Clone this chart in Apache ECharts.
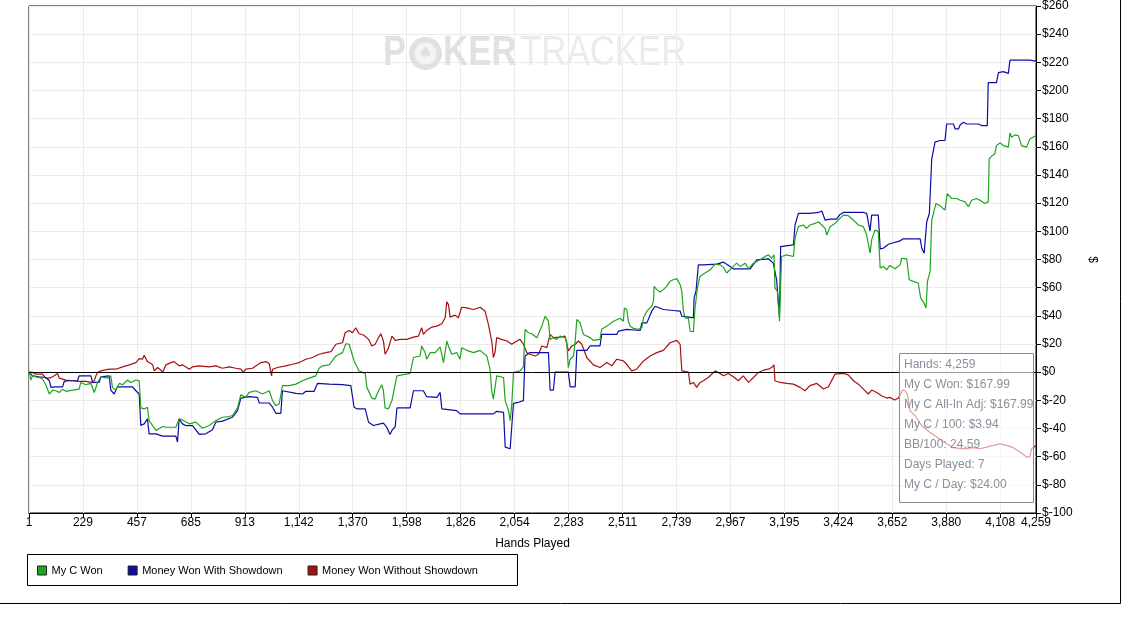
<!DOCTYPE html>
<html>
<head>
<meta charset="utf-8">
<script src="https://cdn.jsdelivr.net/npm/echarts@6/dist/echarts.min.js"></script>
<style>
html,body{margin:0;padding:0;background:#fff;}
#chart{width:1126px;height:641px;}
</style>
</head>
<body>
<div id="chart"></div>
<script>
// ---- data (hand number, dollars) ----
const seriesNames = ['My C Won', 'Money Won With Showdown', 'Money Won Without Showdown'];
const seriesColors = ['#1ea51e', '#0c0ca8', '#a81010'];

const myCWon = [
[1,0],[8,-5.6],[15,-2.6],[29,-3.3],[43,-3.8],[57,-4.9],[71,-8.9],[86,-15.5],[100,-12.7],[114,-13.2],[128,-14.4],[142,-12.2],[156,-13.6],[184,-12.7],[212,-12],[219,-7.3],[241,-8.9],[262,-8],[276,-14.4],[290,-7.3],[304,-3.3],[332,-4.2],[346,-2.6],[353,-10.8],[367,-12.7],[382,-8],[396,-8.9],[417,-5.6],[431,-7.3],[452,-5.6],[466,-6.1],[473,-25.4],[487,-26.1],[501,-24.9],[508,-34.4],[515,-35.5],[537,-41.4],[565,-38.6],[579,-39.1],[621,-39.1],[635,-33.2],[649,-33.9],[678,-36.7],[706,-35.5],[734,-39.8],[762,-37.9],[790,-34.4],[818,-32],[847,-31.5],[861,-30.8],[882,-25.4],[896,-16],[917,-17.9],[931,-14.4],[959,-13.2],[988,-15.5],[1016,-13.2],[1030,-20.2],[1044,-23.8],[1058,-22.6],[1072,-9.6],[1100,-9.6],[1129,-8.5],[1157,-6.1],[1185,-4.2],[1213,-2.6],[1227,2.8],[1241,4.5],[1270,5.2],[1298,11.5],[1326,13.9],[1340,20.2],[1354,19.8],[1361,18.6],[1375,8],[1396,0.9],[1401,0],[1422,-0.9],[1429,-10.8],[1450,-18.4],[1464,-19.1],[1478,-13.2],[1492,-8.9],[1499,-13.2],[1506,-25.4],[1520,-26.1],[1535,-20.2],[1542,-14.4],[1556,-2.6],[1577,-1.9],[1612,-0.9],[1626,10.4],[1654,11.5],[1661,18.6],[1675,13.9],[1682,9.2],[1697,13.9],[1718,13.9],[1739,17.9],[1753,6.8],[1767,22.1],[1774,18.6],[1788,12.7],[1809,13.9],[1823,9.2],[1830,17.4],[1852,15.5],[1880,13.9],[1908,15.5],[1936,11.5],[1950,2.1],[1957,-13.2],[1964,-19.1],[1971,-17.9],[1978,-2.6],[2007,-3.8],[2014,-20.2],[2028,-27.3],[2035,-34.4],[2042,-22.6],[2049,-0.2],[2077,0.9],[2091,3.8],[2098,30.4],[2112,28],[2126,27.3],[2148,24.5],[2169,32.7],[2183,39.8],[2197,36.2],[2204,23.3],[2218,24.5],[2232,23.3],[2246,25.6],[2267,24.5],[2274,22.1],[2281,3.3],[2289,9.2],[2303,11.5],[2310,22.1],[2317,37.4],[2331,35],[2345,26.8],[2373,24.5],[2387,22.6],[2415,23.3],[2422,30.4],[2444,32.7],[2472,36.2],[2500,38.3],[2514,36.2],[2518,45.6],[2528,44.5],[2535,36.2],[2542,32.7],[2556,31.1],[2578,30.4],[2592,31.5],[2599,38.6],[2613,43.3],[2634,46.8],[2641,50.4],[2644,60.9],[2655,58.6],[2669,56.9],[2683,58.6],[2697,60.9],[2711,64.5],[2725,65.6],[2740,66.4],[2754,62.1],[2761,57.4],[2768,43.3],[2775,38.6],[2789,38.1],[2796,29.2],[2810,28.7],[2817,45.6],[2827,59.8],[2838,68],[2859,70.4],[2881,72.7],[2902,76.7],[2923,76.2],[2937,74.4],[2951,70.4],[2965,72.7],[2979,75.1],[2993,77.4],[3008,75.1],[3029,77.4],[3043,73.4],[3064,77.4],[3092,79.8],[3113,82.1],[3127,83.3],[3141,80.9],[3151,83.3],[3155,59.8],[3165,57.4],[3174,36.2],[3179,35],[3183,82.1],[3205,83.3],[3233,82.1],[3240,95.1],[3254,103.3],[3275,104.5],[3289,102.1],[3303,104.5],[3324,105.6],[3339,106.8],[3353,104.5],[3367,102.1],[3374,97.4],[3388,103.3],[3409,105.6],[3423,108],[3444,111.5],[3465,111.1],[3487,108],[3508,104.5],[3529,103.3],[3543,97.4],[3557,84.5],[3564,93.9],[3578,101],[3592,99.8],[3600,73.9],[3613,75.1],[3627,72.7],[3641,75.8],[3663,73.4],[3684,76.2],[3691,80.9],[3712,80.5],[3723,65.6],[3740,64.5],[3761,63.3],[3771,52.7],[3785,49.2],[3794,45.6],[3800,64.5],[3811,71.5],[3818,108],[3836,119.8],[3853,118.1],[3874,115.1],[3884,126.8],[3902,123.3],[3924,123.3],[3938,122.1],[3959,120.9],[3973,117.4],[3987,122.1],[4008,123.3],[4022,122.1],[4043,119.8],[4057,120.9],[4061,151.5],[4071,153.4],[4085,155.1],[4092,160.9],[4107,162.8],[4121,160.9],[4142,159.8],[4149,169.9],[4156,166.8],[4170,168.5],[4184,168],[4198,160.9],[4219,159.8],[4233,165.6],[4259,168]
];

const wonWithShowdown = [
[1,0],[15,-2.6],[43,-3.3],[71,-3.8],[86,-6.1],[93,-10.8],[114,-10.4],[142,-10.4],[149,-6.6],[170,-6.1],[205,-6.1],[212,-2.6],[262,-2.6],[269,-7.3],[297,-7.3],[304,-3.3],[339,-2.6],[346,-12.7],[360,-15.5],[374,-10.4],[438,-10.4],[452,-13.2],[466,-15.5],[473,-37.9],[487,-36.7],[501,-33.2],[508,-43.8],[537,-43.8],[565,-45.4],[621,-45.4],[628,-49.6],[635,-33.2],[649,-36.7],[663,-37.9],[692,-37.9],[720,-44.2],[748,-43.8],[776,-40.9],[790,-35.5],[818,-34.8],[861,-32],[882,-27.3],[896,-18.4],[931,-17.4],[966,-17.9],[974,-21.9],[1016,-21.9],[1030,-24.9],[1044,-29.2],[1065,-29.2],[1072,-13.2],[1129,-15.1],[1157,-15.5],[1171,-13.6],[1206,-13.6],[1220,-8],[1270,-8.5],[1326,-8.9],[1361,-9.6],[1375,-24.9],[1389,-26.1],[1422,-26.1],[1436,-35.5],[1457,-37.9],[1485,-36.7],[1499,-36.2],[1513,-39.1],[1527,-44.2],[1535,-41.4],[1549,-38.6],[1556,-25.4],[1612,-25.4],[1626,-13.2],[1668,-13.2],[1682,-17.4],[1725,-17.9],[1739,-14.4],[1746,-26.1],[1809,-27.3],[1823,-29.6],[1964,-29.6],[1978,-27.8],[2007,-28.5],[2014,-53.2],[2035,-54.4],[2042,-55.5],[2049,-22.1],[2070,-21.4],[2091,-20.2],[2098,11.5],[2119,13.9],[2197,13.9],[2204,-12.7],[2218,-12.7],[2225,0],[2281,0],[2289,-10.4],[2310,-10.4],[2317,15.5],[2359,15.5],[2373,18.6],[2415,18.6],[2422,26.8],[2486,26.8],[2493,29.2],[2528,30.4],[2585,29.6],[2592,35],[2613,35],[2634,43.3],[2648,46.8],[2683,44.5],[2725,43.8],[2754,43.3],[2761,39.8],[2768,38.6],[2810,38.6],[2813,52.7],[2821,57.4],[2831,76.2],[2852,76.2],[2909,76.7],[2937,78.1],[2951,76.7],[2979,73.4],[3050,73.4],[3078,79.8],[3127,80.5],[3148,77.4],[3162,65.6],[3174,39.8],[3179,89.2],[3233,90.4],[3240,104.5],[3254,112.7],[3303,112.7],[3339,113.4],[3353,114.4],[3360,113.9],[3367,108],[3388,108.7],[3416,108.7],[3430,112],[3444,113.4],[3529,113.4],[3543,112.7],[3557,100.2],[3564,111.5],[3592,111.5],[3600,87.5],[3613,88],[3635,90.8],[3684,93.2],[3695,94.6],[3769,94.6],[3776,88],[3786,84.5],[3794,84.5],[3797,106.8],[3808,112.7],[3816,113.4],[3818,151.5],[3825,151.5],[3832,163.3],[3853,164.5],[3874,164.5],[3881,176.2],[3910,176.2],[3917,172.7],[3931,172.7],[3938,175.5],[3952,177.4],[3966,176.2],[4015,176.2],[4029,175.1],[4053,175.1],[4057,205.6],[4092,205.6],[4100,212.7],[4121,213.4],[4142,212.2],[4149,221.6],[4233,221.6],[4259,220.9]
];

const wonWithoutShowdown = [
[1,0],[15,-0.2],[29,-1.4],[57,-1.4],[71,-4.2],[86,-4.2],[100,-3.3],[121,-0.9],[128,-4.2],[156,-5.6],[184,-6.1],[212,-6.6],[241,-6.6],[262,-7.3],[276,-6.1],[283,-2.6],[290,-0.2],[304,0.9],[339,2.1],[367,2.1],[396,3.8],[424,5.2],[452,6.8],[466,9.6],[480,9.2],[487,12],[501,7.5],[523,5.2],[530,0.9],[544,3.3],[558,1.4],[565,-0.2],[579,5.2],[600,6.8],[614,7.5],[635,4.5],[649,5.2],[678,2.1],[692,3.8],[720,4.5],[762,3.8],[790,4.5],[818,2.8],[847,3.8],[875,2.8],[896,2.1],[906,-0.2],[917,2.1],[945,2.8],[981,6.8],[1002,7.5],[1016,6.1],[1023,-0.2],[1026,-2.6],[1030,2.1],[1051,3.3],[1086,4.5],[1115,5.6],[1143,6.8],[1171,9.2],[1199,10.4],[1227,12.7],[1255,13.9],[1277,14.6],[1298,19.8],[1326,20.9],[1337,28],[1354,29.6],[1368,28],[1382,31.5],[1396,27.3],[1415,26.4],[1436,23.3],[1450,18.6],[1464,19.8],[1478,24.5],[1488,27.3],[1499,22.1],[1506,12.7],[1520,16.9],[1535,25.6],[1549,22.6],[1570,23.3],[1598,23.3],[1626,24.9],[1647,25.6],[1661,31.5],[1668,26.8],[1682,29.6],[1704,32],[1725,32.7],[1746,34.4],[1760,38.6],[1767,49.9],[1774,48],[1781,39.1],[1802,40.5],[1816,38.6],[1830,46.1],[1852,45.6],[1880,44.5],[1908,46.1],[1929,43.3],[1943,33.9],[1957,22.1],[1964,10.4],[1971,13.9],[1978,24.5],[1999,23.3],[2021,22.1],[2042,19.8],[2063,22.1],[2077,23.3],[2091,19.8],[2105,13.9],[2119,12.7],[2141,11.5],[2155,12.7],[2169,18.6],[2190,17.4],[2204,26.8],[2218,24.5],[2246,24.9],[2267,25.6],[2281,15.1],[2296,18.6],[2310,19.8],[2324,22.1],[2338,19.8],[2359,10.4],[2387,5.2],[2415,3.3],[2444,6.8],[2465,4.5],[2486,9.2],[2514,8],[2528,5.6],[2549,0.9],[2570,2.1],[2599,8],[2627,11.5],[2655,13.9],[2683,15.5],[2711,20.9],[2740,22.6],[2754,19.8],[2761,0.9],[2789,0],[2796,-8.5],[2810,-7.3],[2824,-10.8],[2838,-7.3],[2852,-6.1],[2873,-3.8],[2902,0.9],[2923,-0.9],[2937,-2.6],[2958,-0.9],[2979,-3.3],[3000,-6.1],[3021,-2.6],[3043,-7.3],[3064,-3.8],[3085,-0.2],[3106,1.4],[3127,2.1],[3141,3.3],[3151,5.2],[3155,-6.1],[3176,-7.3],[3205,-8],[3233,-8.5],[3261,-10.8],[3282,-13.2],[3303,-9.6],[3332,-8],[3360,-12],[3381,-10.4],[3409,-1.4],[3444,-0.9],[3465,-1.9],[3487,-6.1],[3508,-8.5],[3529,-12],[3550,-15.5],[3564,-12.7],[3585,-14.4],[3606,-16.7],[3627,-18.4],[3641,-17.9],[3662,-19.8],[3677,-18.4],[3695,-12.7],[3705,-13.2],[3715,-15.5],[3726,-27.3],[3747,-30.8],[3775,-37.9],[3810,-42.6],[3839,-46.1],[3881,-50.8],[3909,-53.6],[3951,-54.4],[3994,-53.6],[4022,-54.4],[4050,-53.2],[4078,-52],[4106,-50.8],[4134,-52],[4163,-53.6],[4191,-56.7],[4219,-60.2],[4233,-60.2],[4240,-54.4],[4259,-52]
];

const xTickLabels = ['1','229','457','685','913','1,142','1,370','1,598','1,826','2,054','2,283','2,511','2,739','2,967','3,195','3,424','3,652','3,880','4,108','4,259'];
const xMin = 0, xMax = 4259, xStep = 228.2;
const yMin = -100, yMax = 260, yStep = 20;

const statLines = ['Hands: 4,259','My C Won: $167.99','My C All-In Adj: $167.99','My C / 100: $3.94','BB/100: 24.59','Days Played: 7','My C / Day: $24.00'];

// ---- chart ----
const FONT = 'Liberation Sans, Arial, sans-serif';
const chart = echarts.init(document.getElementById('chart'), null, {renderer: 'canvas'});

const statGraphics = [{
  type: 'rect', z: 100,
  shape: {x: 899.5, y: 353.5, width: 134, height: 149},
  style: {fill: 'rgba(255,255,255,0.6)', stroke: '#8a8a8a', lineWidth: 1}
}].concat(statLines.map((t, i) => ({
  type: 'text', z: 101, left: 904, top: 359 + i * 20,
  style: {text: t, fill: '#8c8e9c', font: '12px ' + FONT}
})));

const watermark = [
  {type:'text', z:1, x:383, y:53, scaleX:0.8, style:{text:'P', fill:'#e1e1e1', font:'bold 43px ' + FONT, textVerticalAlign:'middle'}},
  {type:'circle', z:1, shape:{cx:425.5, cy:53.5, r:16.5}, style:{fill:'#e1e1e1'}},
  {type:'circle', z:1, shape:{cx:425.5, cy:53.5, r:11}, style:{fill:'#f3f3f3'}},
  {type:'text', z:1, x:425.5, y:54, style:{text:'\u2660', fill:'#dedede', font:'16px DejaVu Sans', textAlign:'center', textVerticalAlign:'middle'}},
  {type:'text', z:1, x:443, y:53, scaleX:0.81, style:{text:'KER', fill:'#e1e1e1', font:'bold 43px ' + FONT, textVerticalAlign:'middle'}},
  {type:'text', z:1, x:520, y:53, scaleX:0.81, style:{text:'TRACKER', fill:'#ebebeb', font:'43px ' + FONT, textVerticalAlign:'middle'}}
];

const frame = [
  {type:'line', z:5, shape:{x1:1120.5, y1:0, x2:1120.5, y2:603.5}, style:{stroke:'#000', lineWidth:1}},
  {type:'line', z:5, shape:{x1:0, y1:603.5, x2:1120.5, y2:603.5}, style:{stroke:'#000', lineWidth:1}},
  {type:'rect', z:5, shape:{x:27.5, y:554.5, width:490, height:31}, style:{fill:'none', stroke:'#000', lineWidth:1}}
];

const datasets = [myCWon, wonWithShowdown, wonWithoutShowdown];
const zs = [4, 3, 2];

const option = {
  animation: false,
  textStyle: {fontFamily: FONT},
  grid: {left: 29, right: 90, top: 3, bottom: 128, show: true, borderColor: '#000', borderWidth: 1, backgroundColor: 'transparent'},
  legend: {
    data: seriesNames, left: 37, top: 565, padding: 0, itemWidth: 9, itemHeight: 9, itemGap: 25,
    icon: 'rect', itemStyle: {borderColor: '#222', borderWidth: 1},
    textStyle: {fontSize: 11, color: '#000', fontFamily: FONT}
  },
  xAxis: {
    type: 'value', min: xMin, max: xMax, interval: xStep,
    name: 'Hands Played', nameLocation: 'middle', nameGap: 25,
    nameTextStyle: {fontSize: 12, color: '#000', fontFamily: FONT},
    axisLine: {show: true, onZero: false, lineStyle: {color: '#000', width: 1}},
    axisTick: {show: true, length: 5, lineStyle: {color: '#000'}},
    axisLabel: {color: '#000', fontSize: 12, margin: 4, showMaxLabel: true, showMinLabel: true, hideOverlap: false,
      formatter: (v, i) => xTickLabels[i] !== undefined ? xTickLabels[i] : ''},
    splitLine: {show: true, lineStyle: {color: '#ebebeb', width: 1}}
  },
  yAxis: {
    type: 'value', position: 'right', min: yMin, max: yMax, interval: yStep,
    name: '$', nameLocation: 'middle', nameGap: 50, nameRotate: -90,
    nameTextStyle: {fontSize: 12, color: '#000', fontFamily: FONT},
    axisLine: {show: true, onZero: false, lineStyle: {color: '#000', width: 1}},
    axisTick: {show: true, length: 5, lineStyle: {color: '#000'}},
    axisLabel: {color: '#000', fontSize: 12, margin: 6, formatter: v => '$' + v},
    splitLine: {show: true, lineStyle: {color: '#ebebeb', width: 1}}
  },
  series: seriesNames.map((n, i) => ({
    name: n, type: 'line', data: datasets[i], showSymbol: false, symbol: 'none', z: zs[i],
    color: seriesColors[i],
    lineStyle: {color: seriesColors[i], width: 1.2},
    itemStyle: {color: seriesColors[i]},
    markLine: i === 2 ? {
      silent: true, symbol: ['none','none'], label: {show: false},
      lineStyle: {color: '#000', width: 1, type: 'solid'},
      data: [{yAxis: 0}]
    } : undefined
  })),
  graphic: watermark.concat(frame, statGraphics)
};
chart.setOption(option);
</script>
</body>
</html>
